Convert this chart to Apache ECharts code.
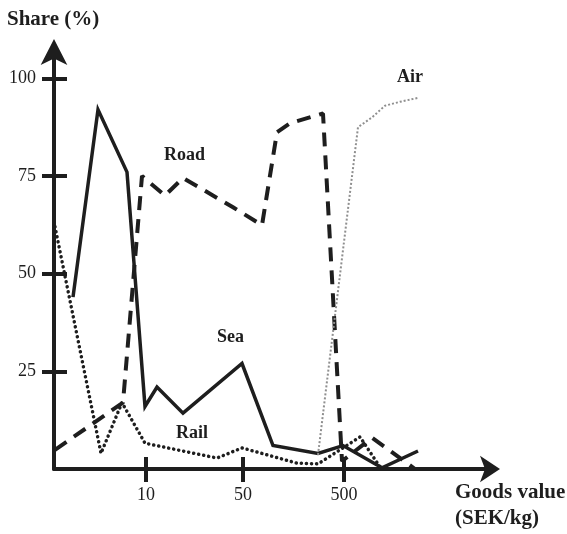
<!DOCTYPE html>
<html><head><meta charset="utf-8">
<script src="https://cdn.jsdelivr.net/npm/echarts@6/dist/echarts.min.js"></script>
<style>html,body{margin:0;padding:0;background:#fff}#c{width:567px;height:534px}</style>
</head><body><div id="c"></div>
<script>
// x positions are in axis units (position along the goods-value axis)
const xTickPos = [9.2, 18.9, 29.0];
const xTickLabels = ['10', '50', '500'];
const yTicks = [25, 50, 75, 100];

const seaX = [1.9, 4.4, 7.3, 9.1, 10.3, 12.9, 18.8, 21.9, 26.4, 28.9, 32.8, 36.4];
const seaY = [44, 92, 76, 16, 21, 14.3, 27, 6, 4, 6, 0.3, 4.6];

const roadX = [0.1, 6.9, 8.8, 11.1, 12.9, 17.9, 20.8, 22.3, 23.6, 26.9, 28.8, 31.8, 36.1];
const roadY = [4.9, 17, 75, 70, 74.5, 67, 62.4, 86.2, 88.5, 91, 2, 8, 0];

const railX = [0.1, 4.7, 6.8, 9.1, 16.3, 18.8, 24.3, 26.4, 30.6, 32.6];
const railY = [62, 4, 17, 6.6, 2.8, 5.4, 1.5, 1.3, 8.2, 0.5];

const airX = [26.4, 30.4, 31.8, 33.1, 34.6, 36.4];
const airY = [3.6, 87.5, 90, 93, 94, 95];

const zip = (xs, ys) => xs.map((x, i) => [x, ys[i]]);
const ink = '#1e1e1e';
const serif = '"Liberation Serif", "DejaVu Serif", serif';

const chart = echarts.init(document.getElementById('c'), null, {renderer: 'canvas'});
const xBase = {
  type: 'value', min: 0, max: 44, position: 'bottom',
  splitLine: {show: false}
};
const yBase = {
  type: 'value', min: 0, max: 107, position: 'left',
  splitLine: {show: false}
};
chart.setOption({
  animation: false,
  grid: {left: 54, right: 73, top: 51, bottom: 65},
  xAxis: [
    Object.assign({}, xBase, {
      axisLine: {show: true, lineStyle: {color: ink, width: 4}, symbol: ['none', 'arrow'], symbolSize: [20, 20], symbolOffset: [0, 6]},
      axisTick: {show: true, customValues: xTickPos, length: 13, lineStyle: {color: ink, width: 4}},
      axisLabel: {show: true, customValues: xTickPos, margin: 17,
        formatter: v => { const i = xTickPos.findIndex(p => Math.abs(p - v) < 1e-6); return i >= 0 ? xTickLabels[i] : ''; },
        color: ink, fontFamily: serif, fontSize: 18}
    }),
    Object.assign({}, xBase, {
      axisLine: {show: false},
      axisTick: {show: true, inside: true, customValues: xTickPos, length: 12, lineStyle: {color: ink, width: 4}},
      axisLabel: {show: false}
    })
  ],
  yAxis: [
    Object.assign({}, yBase, {
      axisLine: {show: true, lineStyle: {color: ink, width: 4}, symbol: ['none', 'arrow'], symbolSize: [20, 26], symbolOffset: [0, 12]},
      axisTick: {show: true, customValues: yTicks, length: 12, lineStyle: {color: ink, width: 4}},
      axisLabel: {show: true, customValues: yTicks, margin: 18, color: ink, fontFamily: serif, fontSize: 18}
    }),
    Object.assign({}, yBase, {
      axisLine: {show: false},
      axisTick: {show: true, inside: true, customValues: yTicks, length: 13, lineStyle: {color: ink, width: 4}},
      axisLabel: {show: false}
    })
  ],
  series: [
    {name: 'Sea', type: 'line', data: zip(seaX, seaY), symbol: 'none',
     lineStyle: {color: ink, width: 3.5, join: 'miter'}},
    {name: 'Road', type: 'line', data: zip(roadX, roadY), symbol: 'none',
     lineStyle: {color: ink, width: 4, type: [14, 9]}},
    {name: 'Rail', type: 'line', data: zip(railX, railY), symbol: 'none',
     lineStyle: {color: ink, width: 3.5, type: [0.1, 5], cap: 'round'}},
    {name: 'Air', type: 'line', data: zip(airX, airY), symbol: 'none',
     lineStyle: {color: '#8f8f8f', width: 2, type: [2, 2]}}
  ],
  graphic: [
    {type: 'text', left: 7, top: 9, style: {text: 'Share (%)', font: 'bold 21px ' + serif, fill: ink}},
    {type: 'text', left: 455, top: 482, style: {text: 'Goods value', font: 'bold 21px ' + serif, fill: ink}},
    {type: 'text', left: 455, top: 508, style: {text: '(SEK/kg)', font: 'bold 21px ' + serif, fill: ink}},
    {type: 'text', left: 164, top: 146, style: {text: 'Road', font: 'bold 18px ' + serif, fill: ink}},
    {type: 'text', left: 397, top: 68, style: {text: 'Air', font: 'bold 18px ' + serif, fill: ink}},
    {type: 'text', left: 217, top: 328, style: {text: 'Sea', font: 'bold 18px ' + serif, fill: ink}},
    {type: 'text', left: 176, top: 424, style: {text: 'Rail', font: 'bold 18px ' + serif, fill: ink}}
  ]
});
</script></body></html>
